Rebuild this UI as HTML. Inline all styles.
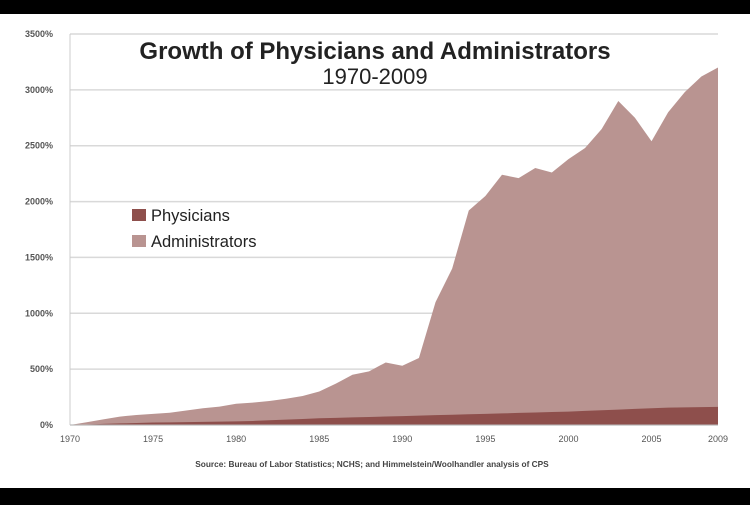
<!DOCTYPE html>
<html><head><meta charset="utf-8"><style>
html,body{margin:0;padding:0;background:#000;}
svg{display:block;}
text{font-family:"Liberation Sans",sans-serif;}
</style></head><body>
<svg id="chart" width="750" height="505" xmlns="http://www.w3.org/2000/svg">
<rect x="0" y="14" width="750" height="474" fill="#fff"/>
<g id="grid"></g>
<g id="areas"></g>
<g id="axes"></g>
<text x="375" y="59" text-anchor="middle" font-size="24" font-weight="bold" fill="#222">Growth of Physicians and Administrators</text>
<text x="375" y="84" text-anchor="middle" font-size="22" fill="#222">1970-2009</text>
<g>
<rect x="132" y="209" width="14" height="12" fill="#8e4f4c"/>
<text x="151" y="221" font-size="16.5" fill="#222">Physicians</text>
<rect x="132" y="235" width="14" height="12" fill="#b99491"/>
<text x="151" y="247" font-size="16.5" fill="#222">Administrators</text>
</g>
<text x="372" y="467" text-anchor="middle" font-size="8.3" font-weight="bold" fill="#444">Source: Bureau of Labor Statistics; NCHS; and Himmelstein/Woolhandler analysis of CPS</text>
</svg>
<script>
const years=[];for(let y=1970;y<=2009;y++)years.push(y);
const administrators=[0,25,50,75,90,100,110,130,150,165,190,200,215,235,260,300,370,450,480,560,530,600,1100,1400,1920,2050,2240,2210,2300,2260,2380,2480,2650,2900,2750,2540,2800,2980,3120,3200];
const physicians=[0,5,10,14,18,22,24,26,28,30,32,36,42,48,54,60,64,68,72,76,80,84,88,92,96,100,104,108,112,116,120,126,132,138,144,150,155,158,160,162];
const yTicks=[0,500,1000,1500,2000,2500,3000,3500];
const xTickYears=[1970,1975,1980,1985,1990,1995,2000,2005,2009];
const NS="http://www.w3.org/2000/svg";
const x=v=>70+(v-1970)*(648/39);
const y=v=>425-v*(391/3500);
const grid=document.getElementById('grid'),areas=document.getElementById('areas'),axes=document.getElementById('axes');
function mk(tag,attrs,parent){const e=document.createElementNS(NS,tag);for(const k in attrs)e.setAttribute(k,attrs[k]);parent.appendChild(e);return e;}
yTicks.forEach(t=>{
 const l=mk('line',{x1:70,x2:718,y1:y(t),y2:y(t),stroke:'#d9d9d9','stroke-width':1.5},grid);
 
 
 const tx=mk('text',{x:53,y:y(t)+3,'text-anchor':'end','font-size':9,fill:'#555','font-weight':'bold'},axes);
 tx.textContent=t+'%';
 
 
});
function area(vals,fill,name){
 let d='M'+x(years[0])+','+y(0);
 vals.forEach((v,i)=>{d+=' L'+x(years[i])+','+y(v);});
 d+=' L'+x(years[years.length-1])+','+y(0)+' Z';
 const p=mk('path',{d:d,fill:fill},areas);
 
 
}
area(administrators,'#b99491','area-administrators');
area(physicians,'#8e4f4c','area-physicians');
const ax=mk('line',{x1:70,x2:70,y1:y(3500),y2:425,stroke:'#ccc'},axes);


const bx=mk('line',{x1:70,x2:718,y1:425,y2:425,stroke:'#bbb'},axes);


xTickYears.forEach(yr=>{
 const t=mk('text',{x:x(yr),y:442,'text-anchor':'middle','font-size':9,fill:'#555'},axes);
 t.textContent=yr;
 
 
});
</script>
</body></html>
